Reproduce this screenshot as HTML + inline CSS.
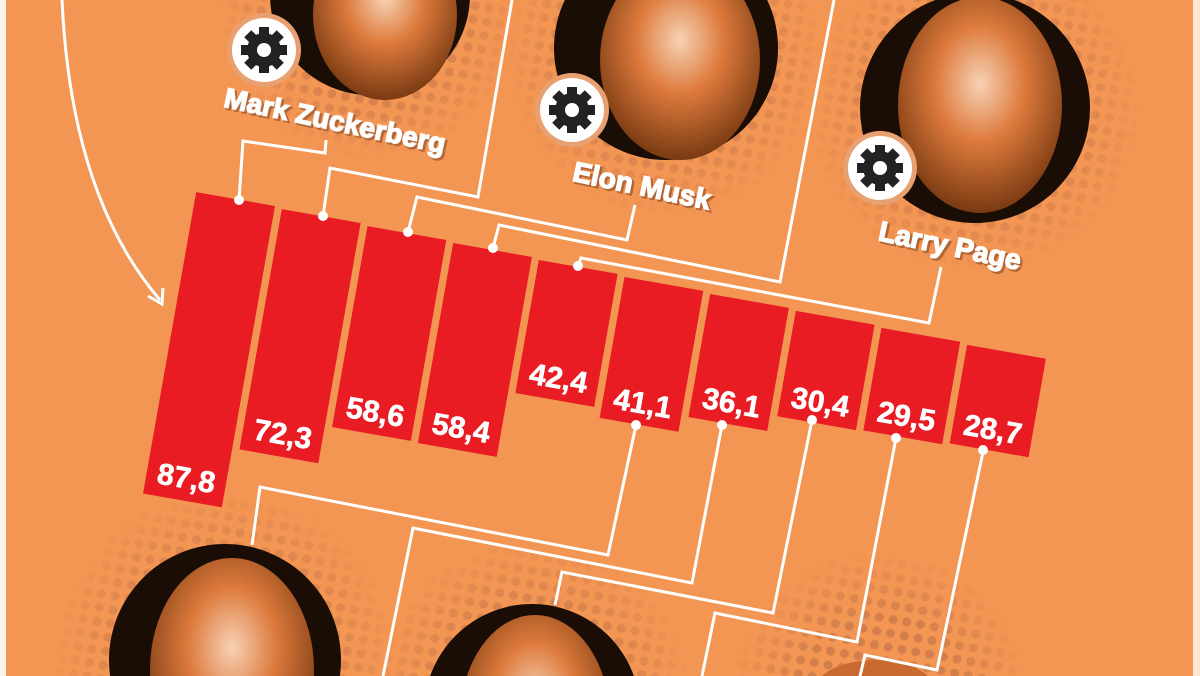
<!DOCTYPE html>
<html><head><meta charset="utf-8"><style>
html,body{margin:0;padding:0;background:#f39553;overflow:hidden;width:1200px;height:676px}
svg{display:block}
text{font-family:"Liberation Sans",sans-serif;font-weight:bold}
</style></head><body>
<svg width="1200" height="676" viewBox="0 0 1200 676" xmlns="http://www.w3.org/2000/svg">
<defs>
<pattern id="dots" width="14" height="14" patternUnits="userSpaceOnUse" patternTransform="rotate(10)">
<circle cx="7" cy="7" r="4.5" fill="#c8784a" opacity="0.75"/>
</pattern>
<radialGradient id="fade"><stop offset="0.55" stop-color="#fff"/><stop offset="1" stop-color="#000"/></radialGradient>
<mask id="m1"><rect width="1200" height="676" fill="#000"/>
<circle cx="370" cy="10" r="150" fill="url(#fade)"/>
<circle cx="666" cy="55" r="160" fill="url(#fade)"/>
<circle cx="975" cy="110" r="165" fill="url(#fade)"/>
<circle cx="225" cy="660" r="170" fill="url(#fade)"/>
<circle cx="532" cy="700" r="160" fill="url(#fade)"/>
<circle cx="880" cy="700" r="150" fill="url(#fade)"/>
</mask>
<radialGradient id="face" cx="0.5" cy="0.4" r="0.6"><stop offset="0" stop-color="#f7d2b5"/><stop offset="0.45" stop-color="#dd7a3c"/><stop offset="1" stop-color="#7a3a12"/></radialGradient>
<g id="gear">
<circle r="37" fill="#e9a070"/>
<circle r="32" fill="#fff"/>
<g fill="#222">
<circle r="17"/>
<rect x="-5" y="-23" width="10" height="46"/>
<rect x="-5" y="-23" width="10" height="46" transform="rotate(45)"/>
<rect x="-5" y="-23" width="10" height="46" transform="rotate(90)"/>
<rect x="-5" y="-23" width="10" height="46" transform="rotate(135)"/>
</g>
<circle r="7" fill="#fff"/>
</g>
</defs>
<rect width="1200" height="676" fill="#f39553"/>
<rect x="0" y="0" width="6" height="676" fill="#fdf3ea"/>
<rect x="1193" y="0" width="7" height="676" fill="#fbe6d6"/>
<rect width="1200" height="676" fill="url(#dots)" mask="url(#m1)"/>

<g>
<circle cx="370" cy="-5" r="100" fill="#1a0d05"/>
<ellipse cx="385" cy="15" rx="72" ry="85" fill="url(#face)"/>
<circle cx="666" cy="48" r="112" fill="#1a0d05"/>
<ellipse cx="680" cy="60" rx="80" ry="100" fill="url(#face)"/>
<circle cx="975" cy="108" r="115" fill="#1a0d05"/>
<ellipse cx="980" cy="105" rx="82" ry="108" fill="url(#face)"/>
<circle cx="225" cy="660" r="116" fill="#1a0d05"/>
<ellipse cx="232" cy="670" rx="82" ry="112" fill="url(#face)"/>
<circle cx="532" cy="712" r="108" fill="#1a0d05"/>
<ellipse cx="535" cy="720" rx="75" ry="105" fill="url(#face)"/>
<ellipse cx="875" cy="690" rx="60" ry="30" fill="#c96a30"/>
</g>
<use href="#gear" x="264" y="50"/>
<use href="#gear" x="572" y="110"/>
<use href="#gear" x="880" y="168"/>

<path d="M62,0 C68,130 100,230 160,300" fill="none" stroke="#fff" stroke-width="3"/>
<path d="M148,296 L162,304 L163,288" fill="none" stroke="#fff" stroke-width="3"/>

<g fill="none" stroke="#fff" stroke-width="3" stroke-linejoin="miter">
<polyline points="239,200 243,141 325,153 326,140"/>
<polyline points="323,216 330,168 478,197 512,0"/>
<polyline points="408,232 417,197 627,240 635,205"/>
<polyline points="493,248 499,225 780,282 834,0"/>
<polyline points="578,266 581,258 929,323 941,267"/>
<polyline points="252,545 260,487 608,555 636,425"/>
<polyline points="383,676 413,528 692,583 722,425"/>
<polyline points="555,605 562,572 773,613 812,420"/>
<polyline points="702,676 715,613 857,642 896,438"/>
<polyline points="860,676 865,655 937,670 983,452"/>
</g>

<g transform="rotate(10 600 338)">
<g fill="#e91b23">
<rect x="177" y="264.5" width="80" height="306"/>
<rect x="264.3" y="266.3" width="80" height="244"/>
<rect x="351.6" y="268.2" width="80" height="204"/>
<rect x="438.9" y="270" width="80" height="203"/>
<rect x="526.2" y="271.8" width="80" height="135"/>
<rect x="613.5" y="273.7" width="80" height="143"/>
<rect x="700.8" y="275.5" width="80" height="125"/>
<rect x="788.1" y="277.3" width="80" height="107"/>
<rect x="875.4" y="279.2" width="80" height="104"/>
<rect x="962.7" y="281" width="80" height="100"/>
</g>
<g fill="#fff" font-size="30" text-anchor="middle" font-weight="bold" stroke="#fff" stroke-width="0.6">
<text x="217" y="558">87,8</text>
<text x="304.3" y="498">72,3</text>
<text x="391.6" y="460">58,6</text>
<text x="478.9" y="461">58,4</text>
<text x="566.2" y="395">42,4</text>
<text x="653.5" y="405">41,1</text>
<text x="740.8" y="389">36,1</text>
<text x="828.1" y="373">30,4</text>
<text x="915.4" y="372">29,5</text>
<text x="1002.7" y="370">28,7</text>
</g>
</g>

<g fill="#fff">
<circle cx="239" cy="200" r="5"/><circle cx="323" cy="216" r="5"/><circle cx="408" cy="232" r="5"/>
<circle cx="493" cy="248" r="5"/><circle cx="578" cy="266" r="5"/>
<circle cx="636" cy="425" r="5"/><circle cx="722" cy="425" r="5"/><circle cx="812" cy="420" r="5"/>
<circle cx="896" cy="438" r="5"/><circle cx="983" cy="450" r="5"/>
</g>

<g font-size="28" text-anchor="middle" font-weight="bold">
<g fill="#8a4a20" stroke="#8a4a20" stroke-width="2" opacity="0.6">
<text transform="translate(335,132) rotate(12)">Mark Zuckerberg</text>
<text transform="translate(642,197) rotate(12)">Elon Musk</text>
<text transform="translate(950,257) rotate(12)">Larry Page</text>
</g>
<g fill="#fff" stroke="#fff" stroke-width="1.4">
<text transform="translate(333,130) rotate(12)">Mark Zuckerberg</text>
<text transform="translate(640,195) rotate(12)">Elon Musk</text>
<text transform="translate(948,255) rotate(12)">Larry Page</text>
</g>
</g>
</svg>
</body></html>
